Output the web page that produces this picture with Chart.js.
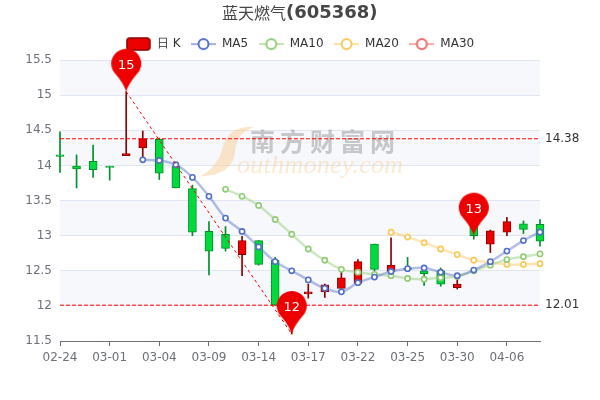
<!DOCTYPE html>
<html>
<head>
<meta charset="utf-8">
<style>
  html, body { margin: 0; padding: 0; background: #fff; }
</style>
<script src="https://cdn.jsdelivr.net/npm/chart.js"></script>
</head>
<body>
<canvas id="kline" width="600" height="400"></canvas>
<script>
// chart data
const dates = ["02-24","02-25","02-26","03-01","03-02","03-03","03-04","03-05","03-08","03-09",
               "03-10","03-11","03-14","03-15","03-16","03-17","03-18","03-19","03-22","03-23",
               "03-24","03-25","03-26","03-29","03-30","03-31","04-01","04-06","04-07","04-08"];
const opens  = [14.15,13.99,14.06,13.99,14.14,14.25,14.37,13.99,13.67,13.06,13.02,12.73,12.93,12.65,12.02,12.17,12.20,12.25,12.32,12.88,12.49,12.54,12.50,12.50,12.26,13.20,12.88,13.05,13.17,13.16];
const closes = [14.13,13.95,13.94,13.97,14.17,14.38,13.89,13.68,13.05,12.78,12.82,12.93,12.59,12.01,12.15,12.20,12.30,12.40,12.63,12.52,12.58,12.52,12.46,12.31,12.31,13.00,13.07,13.20,13.09,12.92];
const highs  = [14.48,14.15,14.29,13.99,15.05,14.49,14.39,14.01,13.72,13.20,13.13,12.99,12.93,12.69,12.20,12.31,12.31,12.48,12.66,12.88,12.97,12.69,12.54,12.54,12.38,13.25,13.08,13.26,13.21,13.23];
const lows   = [13.90,13.68,13.83,13.79,14.14,14.10,13.80,13.68,13.00,12.44,12.78,12.43,12.58,12.00,11.60,12.11,12.12,12.25,12.32,12.50,12.49,12.49,12.29,12.28,12.24,12.95,12.76,13.00,13.03,12.85];

const ma5  = [null,null,null,null,null,14.08,14.07,14.01,13.83,13.56,13.25,13.06,12.84,12.63,12.50,12.37,12.25,12.20,12.33,12.41,12.49,12.53,12.54,12.48,12.43,12.51,12.63,12.78,12.93,13.05];
const ma10 = [null,null,null,null,null,null,null,null,null,null,13.66,13.56,13.43,13.23,13.02,12.81,12.65,12.52,12.48,12.45,12.43,12.39,12.38,12.40,12.42,12.50,12.58,12.66,12.70,12.74];
const ma20 = [null,null,null,null,null,null,null,null,null,null,null,null,null,null,null,null,null,null,null,null,13.05,12.98,12.90,12.81,12.73,12.65,12.62,12.59,12.59,12.60];
const ma30 = [];

const maxLine = dates.map(() => 14.38);
const minLine = dates.map(() => 12.01);
const slantLine = dates.map((d, i) => i === 4 ? 15.05 : i === 14 ? 11.60 : null);
const pinValues = dates.map((d, i) => i === 4 ? 15.05 : i === 14 ? 11.60 : i === 25 ? 13.00 : null);
const pinLabels = dates.map((d, i) => i === 4 ? "15" : i === 14 ? "12" : i === 25 ? "13" : "");

const legendNames = ["日 K", "MA5", "MA10", "MA20", "MA30"];
const maColors = ["#5470c6", "#91cc75", "#fac858", "#ee6666"];

const UP = "#ec0000", UP_EDGE = "#8a0000", DOWN = "#00da3c", DOWN_EDGE = "#008f28";
const FONT = "'DejaVu Sans'";

const isUp = i => closes[i] >= opens[i];
const fadeColor = (hex, a) => hex + Math.round(a * 255).toString(16).padStart(2, "0");

function pinImage() {
    let c = document.createElement("canvas");
    c.width = 90; c.height = 90;
    let g = c.getContext("2d");
    // tip sits on the canvas centre so the point lands on the value
    g.fillStyle = "#ee0000";
    g.beginPath();
    g.arc(45, 17, 15, Math.PI * 0.85, Math.PI * 0.15);
    g.bezierCurveTo(55, 29, 48, 35, 45, 45);
    g.bezierCurveTo(42, 35, 35, 29, 31.6, 23.8);
    g.closePath();
    g.fill();
    return c;
}

function legendIcon(i) {
    let c = document.createElement("canvas");
    c.width = 25; c.height = 14;
    let g = c.getContext("2d");
    if (i === 0) {
        g.fillStyle = UP;
        g.strokeStyle = UP_EDGE;
        g.lineWidth = 1.5;
        g.beginPath();
        g.roundRect(1, 1, 23, 12, 3);
        g.fill();
        g.stroke();
    } else {
        let col = maColors[i - 1];
        g.strokeStyle = fadeColor(col, 0.55);
        g.lineWidth = 2;
        g.beginPath();
        g.moveTo(0, 7);
        g.lineTo(25, 7);
        g.stroke();
        g.fillStyle = "#fff";
        g.strokeStyle = col;
        g.beginPath();
        g.arc(12.5, 7, 5, 0, Math.PI * 2);
        g.fill();
        g.stroke();
    }
    return c;
}

// alternating bands behind the grid
const bandsPlugin = {
    id: "bands",
    beforeDraw(chart) {
        let y = chart.scales.y, a = chart.chartArea, ctx = chart.ctx;
        ctx.save();
        ctx.fillStyle = "#f6f8fc";
        y.ticks.forEach((t, i) => {
            if (i > 0 && i % 2 === 0) {
                let top = y.getPixelForValue(t.value);
                let bottom = y.getPixelForValue(t.value - 0.5);
                ctx.fillRect(a.left, top, a.right - a.left, bottom - top);
            }
        });
        ctx.restore();
    }
};

const watermarkPlugin = {
    id: "watermark",
    beforeDatasetsDraw(chart) {
        let ctx = chart.ctx;
        ctx.save();
        ctx.fillStyle = "rgba(250,205,150,0.5)";
        ctx.beginPath();
        ctx.moveTo(254, 127);
        ctx.bezierCurveTo(232, 126, 226, 136, 222, 150);
        ctx.bezierCurveTo(219, 160, 212, 170, 201, 176);
        ctx.bezierCurveTo(222, 176, 234, 166, 235, 152);
        ctx.bezierCurveTo(236, 140, 241, 131, 254, 127);
        ctx.fill();
        ctx.textBaseline = "alphabetic";
        ctx.font = "italic 26px 'Liberation Serif'";
        ctx.fillStyle = "rgba(250,205,150,0.45)";
        ctx.letterSpacing = "0.3px";
        ctx.fillText("outhmoney.com", 237, 173);
        ctx.font = "bold 25px 'Noto Sans CJK SC'";
        ctx.fillStyle = "rgba(150,150,150,0.5)";
        ctx.letterSpacing = "5px";
        ctx.fillText("南方财富网", 250, 151);
        ctx.restore();
    }
};

// title in two weights and the pin numbers
const labelsPlugin = {
    id: "labels",
    afterDatasetsDraw(chart) {
        let ctx = chart.ctx;
        ctx.save();
        ctx.textBaseline = "middle";
        ctx.textAlign = "left";
        ctx.fillStyle = "#464646";
        ctx.font = "16px 'Noto Sans CJK SC'";
        ctx.fillText("蓝天燃气", 222, 13);
        ctx.font = "bold 18px " + FONT;
        ctx.fillText("(605368)", 286, 13);
        ctx.font = "13px " + FONT;
        ctx.fillStyle = "#fff";
        ctx.textAlign = "center";
        let pins = chart.getDatasetMeta(chart.data.datasets.length - 1).data;
        pins.forEach((p, i) => {
            if (pinLabels[i]) ctx.fillText(pinLabels[i], p.x, p.y - 26);
        });
        ctx.restore();
    }
};

function maDataset(label, values, color) {
    return {
        type: "line",
        label: label,
        data: values,
        borderColor: fadeColor(color, 0.45),
        borderWidth: 2.5,
        tension: 0.35,
        pointRadius: 2.6,
        pointBorderWidth: 1.6,
        pointBackgroundColor: "#fff",
        pointBorderColor: color,
        clip: false,
        order: 5
    };
}

function guideDataset(values, dash) {
    return {
        type: "line",
        data: values,
        borderColor: "#ff0000",
        borderWidth: 1,
        borderDash: dash,
        pointRadius: 0,
        spanGaps: true,
        clip: false,
        order: 3
    };
}

new Chart(document.getElementById("kline"), {
    type: "bar",
    data: {
        labels: dates,
        datasets: [
            {
                label: "wick",
                data: dates.map((d, i) => [lows[i], highs[i]]),
                backgroundColor: dates.map((d, i) => isUp(i) ? UP_EDGE : DOWN_EDGE),
                barThickness: 1,
                grouped: false,
                clip: false,
                order: 8
            },
            {
                label: "日 K",
                data: dates.map((d, i) => [opens[i], closes[i]]),
                backgroundColor: dates.map((d, i) => isUp(i) ? UP : DOWN),
                borderColor: dates.map((d, i) => isUp(i) ? UP_EDGE : DOWN_EDGE),
                borderWidth: 1,
                borderSkipped: false,
                barThickness: 8,
                grouped: false,
                clip: false,
                order: 7
            },
            maDataset("MA5", ma5, maColors[0]),
            maDataset("MA10", ma10, maColors[1]),
            maDataset("MA20", ma20, maColors[2]),
            maDataset("MA30", ma30, maColors[3]),
            guideDataset(maxLine, [4, 2]),
            guideDataset(minLine, [4, 2]),
            guideDataset(slantLine, [3, 3]),
            {
                type: "line",
                data: pinValues,
                showLine: false,
                pointStyle: pinImage(),
                pointRadius: 45,
                clip: false,
                order: 1
            }
        ]
    },
    options: {
        responsive: false,
        animation: false,
        devicePixelRatio: 1,
        layout: { padding: { top: 27.6 } },
        plugins: {
            tooltip: { enabled: false },
            title: { display: false },
            legend: {
                position: "top",
                labels: {
                    usePointStyle: true,
                    pointStyleWidth: 25,
                    padding: 10.5,
                    color: "#333",
                    font: { family: FONT, size: 12 },
                    generateLabels: () => legendNames.map((name, i) => ({
                        text: name,
                        fontColor: "#333",
                        pointStyle: legendIcon(i),
                        lineWidth: 0,
                        hidden: false
                    }))
                }
            }
        },
        scales: {
            x: {
                offset: false,
                afterBuildTicks: s => { s.ticks = s.ticks.filter((t, i) => i % 3 === 0); },
                afterFit: s => { s.height = 59; },
                border: { color: "#6e7079" },
                grid: { offset: false, drawOnChartArea: false, tickColor: "#6e7079", tickLength: 5 },
                ticks: {
                    autoSkip: false,
                    maxRotation: 0,
                    padding: 5,
                    color: "#6e7079",
                    font: { family: FONT, size: 12 }
                }
            },
            y: {
                min: 11.5,
                max: 15.5,
                afterFit: s => { s.width = 60; },
                border: { display: false },
                grid: { color: "#e0e6f1", drawTicks: false },
                ticks: {
                    stepSize: 0.5,
                    padding: 8,
                    color: "#6e7079",
                    font: { family: FONT, size: 12 },
                    callback: v => String(v)
                }
            },
            // right axis only carries the max / min values
            y2: {
                type: "linear",
                position: "right",
                min: 11.5,
                max: 15.5,
                afterBuildTicks: s => { s.ticks = [{ value: minLine[0] }, { value: maxLine[0] }]; },
                afterFit: s => { s.width = 60; },
                border: { display: false },
                grid: { drawOnChartArea: false, drawTicks: false },
                ticks: {
                    padding: 5,
                    color: "#333",
                    font: { family: FONT, size: 12 },
                    callback: v => v.toFixed(2)
                }
            }
        }
    },
    plugins: [bandsPlugin, watermarkPlugin, labelsPlugin]
});
</script>
</body>
</html>
